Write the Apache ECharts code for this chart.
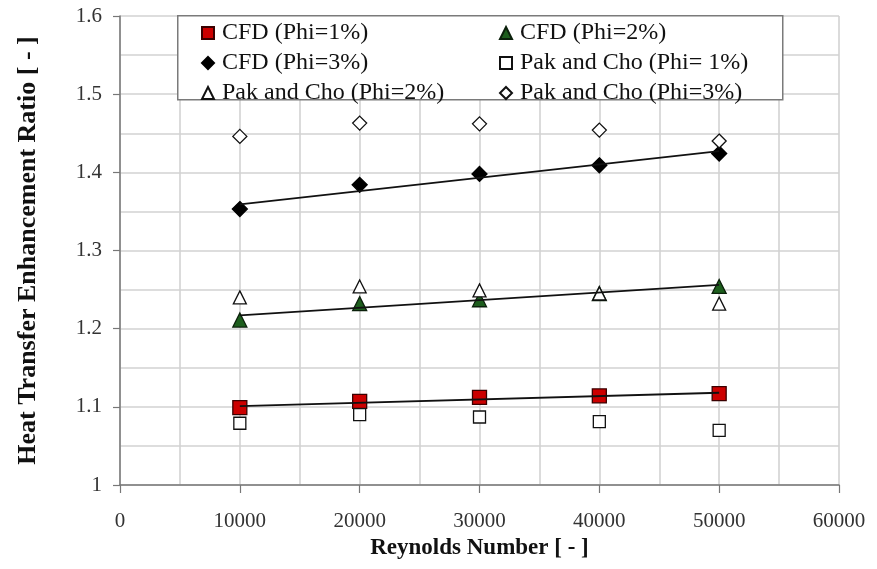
<!DOCTYPE html>
<html>
<head>
<meta charset="utf-8">
<script src="https://cdn.jsdelivr.net/npm/echarts@6/dist/echarts.min.js"></script>
<style>
  html, body { margin: 0; padding: 0; background: #ffffff; }
  #chart { width: 877px; height: 569px; }
</style>
</head>
<body>
<div id="chart"></div>
<script>
// Reynolds numbers of the test points
var reynolds = [10000, 20000, 30000, 40000, 50000];

// Heat transfer enhancement ratio, CFD results
var cfdPhi1 = [1.099, 1.107, 1.112, 1.114, 1.117];
var cfdPhi2 = [1.211, 1.232, 1.237, 1.245, 1.254];
var cfdPhi3 = [1.353, 1.384, 1.398, 1.409, 1.424];

// Pak and Cho correlation
var pakPhi1 = [1.079, 1.090, 1.087, 1.081, 1.070];
var pakPhi2 = [1.240, 1.254, 1.249, 1.245, 1.232];
var pakPhi3 = [1.446, 1.463, 1.462, 1.454, 1.440];

// Linear trend lines through the CFD points (value at first and last Reynolds number)
var trendRe = [10000, 50000];
var trendPhi1 = [1.101, 1.118];
var trendPhi2 = [1.217, 1.256];
var trendPhi3 = [1.359, 1.427];

// Axis ticks
var xTicks = [0, 10000, 20000, 30000, 40000, 50000, 60000];
var yTicks = [1, 1.1, 1.2, 1.3, 1.4, 1.5, 1.6];

var names = {
  c1: 'CFD (Phi=1%)',
  c2: 'CFD (Phi=2%)',
  c3: 'CFD (Phi=3%)',
  p1: 'Pak and Cho (Phi= 1%)',
  p2: 'Pak and Cho (Phi=2%)',
  p3: 'Pak and Cho (Phi=3%)'
};

var SERIF = '"Liberation Serif", "Times New Roman", serif';

function pairs(xs, ys) {
  return xs.map(function (x, i) { return [x, ys[i]]; });
}

function scatter(name, values, symbol, size, fill, border) {
  return {
    name: name,
    type: 'scatter',
    data: pairs(reynolds, values),
    symbol: symbol,
    symbolSize: size,
    itemStyle: { color: fill, borderColor: border, borderWidth: 1.3, opacity: 1 },
    emphasis: { disabled: true },
    z: 3
  };
}

function trend(values) {
  return {
    type: 'line',
    data: pairs(trendRe, values),
    symbol: 'none',
    lineStyle: { color: '#111111', width: 1.8 },
    emphasis: { disabled: true },
    z: 4
  };
}

var gridLine = { show: true, lineStyle: { color: '#d2d2d2', width: 1.6 } };

var legendText = {
  fontFamily: SERIF, fontSize: 24, color: '#111111', lineHeight: 22,
  padding: [0, 0, 0, 3]
};

var chart = echarts.init(document.getElementById('chart'), null, { renderer: 'canvas' });

chart.setOption({
  animation: false,
  backgroundColor: '#ffffff',
  grid: { left: 120, right: 38, top: 16, bottom: 84, containLabel: false },
  xAxis: {
    type: 'value',
    min: xTicks[0],
    max: xTicks[xTicks.length - 1],
    interval: xTicks[1] - xTicks[0],
    name: 'Reynolds Number [ - ]',
    nameLocation: 'middle',
    nameGap: 51,
    nameTextStyle: { fontFamily: SERIF, fontSize: 23, fontWeight: 'bold', color: '#111111' },
    axisLine: { show: true, lineStyle: { color: '#777777', width: 1.5 } },
    axisTick: { show: true, inside: false, length: 8, lineStyle: { color: '#777777', width: 1.2 } },
    axisLabel: {
      margin: 26,
      fontFamily: SERIF, fontSize: 21, color: '#333333',
      formatter: function (v) { return String(v); }
    },
    splitLine: gridLine,
    minorTick: { show: false, splitNumber: 2 },
    minorSplitLine: gridLine
  },
  yAxis: {
    type: 'value',
    min: yTicks[0],
    max: yTicks[yTicks.length - 1],
    interval: 0.1,
    name: 'Heat Transfer Enhancement Ratio [ - ]',
    nameLocation: 'middle',
    nameGap: 79,
    nameRotate: 90,
    nameTextStyle: { fontFamily: SERIF, fontSize: 26, fontWeight: 'bold', color: '#111111' },
    axisLine: { show: true, lineStyle: { color: '#777777', width: 1.5 } },
    axisTick: { show: true, inside: false, length: 7, lineStyle: { color: '#777777', width: 1.2 } },
    axisLabel: {
      margin: 18,
      fontFamily: SERIF, fontSize: 21, color: '#333333',
      formatter: function (v) { return String(Math.round(v * 10) / 10); }
    },
    splitLine: gridLine,
    minorTick: { show: false, splitNumber: 2 },
    minorSplitLine: gridLine
  },
  graphic: [{
    type: 'rect',
    left: 177, top: 15,
    shape: { width: 605, height: 84 },
    style: { fill: '#ffffff', stroke: '#7a7a7a', lineWidth: 1.5 },
    z: 10
  }],
  legend: [{
    orient: 'vertical',
    left: 201, top: 21,
    padding: 0,
    itemGap: 6,
    itemWidth: 12, itemHeight: 12,
    textStyle: legendText,
    data: [names.c1, names.c3, names.p2],
    z: 11
  }, {
    orient: 'vertical',
    left: 499, top: 21,
    padding: 0,
    itemGap: 6,
    itemWidth: 12, itemHeight: 12,
    textStyle: legendText,
    data: [names.c2, names.p1, names.p3],
    z: 11
  }],
  series: [
    scatter(names.c1, cfdPhi1, 'rect', 14, '#cc0000', '#3a0000'),
    scatter(names.c2, cfdPhi2, 'triangle', 14, '#1d5e1d', '#0b200b'),
    scatter(names.c3, cfdPhi3, 'diamond', 15, '#000000', '#000000'),
    scatter(names.p1, pakPhi1, 'rect', 12, '#ffffff', '#111111'),
    scatter(names.p2, pakPhi2, 'triangle', 13, '#ffffff', '#111111'),
    scatter(names.p3, pakPhi3, 'diamond', 14, '#ffffff', '#111111'),
    trend(trendPhi1),
    trend(trendPhi2),
    trend(trendPhi3)
  ]
});
</script>
</body>
</html>
